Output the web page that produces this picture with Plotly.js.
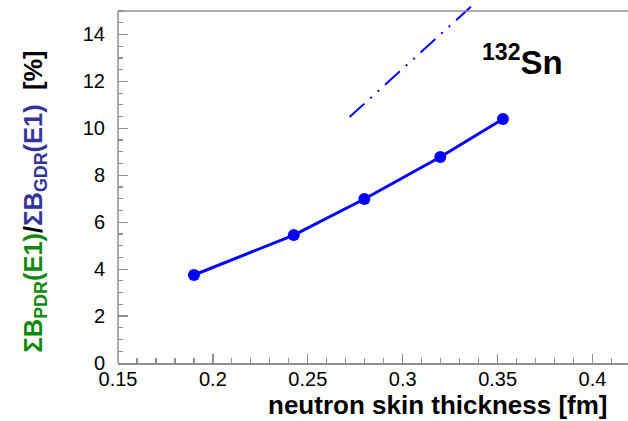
<!DOCTYPE html>
<html>
<head>
<meta charset="utf-8">
<script src="https://cdn.plot.ly/plotly-3.0.1.min.js"></script>
<style>
  html, body { margin: 0; padding: 0; background: #fff; }
  #chart { width: 628px; height: 421px; }
</style>
</head>
<body>
<div id="chart"></div>
<script>
// Calculated PDR/GDR strength ratio versus neutron skin thickness for 132Sn
const skinThickness = [0.190, 0.2426, 0.2798, 0.3198, 0.3528];
const strengthRatio = [3.75, 5.45, 6.99, 8.78, 10.40];

// Dash-dot reference line
const refSkin = [0.272, 0.339];
const refRatio = [10.48, 15.41];

// Axis tick labels
const xTickVals = [0.15, 0.2, 0.25, 0.3, 0.35, 0.4];
const xTickText = ['0.15', '0.2', '0.25', '0.3', '0.35', '0.4'];
const yTickVals = [0, 2, 4, 6, 8, 10, 12, 14];
const yTickText = ['0', '2', '4', '6', '8', '10', '12', '14'];

const axisGrey = '#8f8f8f';
const lineBlue = '#0000ff';
const fontFamily = 'Liberation Sans, Arial, sans-serif';

const traces = [
  {
    x: skinThickness,
    y: strengthRatio,
    type: 'scatter',
    mode: 'lines+markers',
    line: { color: lineBlue, width: 3 },
    marker: { color: lineBlue, size: 12 },
    hoverinfo: 'skip'
  },
  {
    x: refSkin,
    y: refRatio,
    type: 'scatter',
    mode: 'lines',
    line: { color: lineBlue, width: 2, dash: '20px,8px,2px,8px,2px,8px' },
    hoverinfo: 'skip'
  }
];

const layout = {
  width: 628,
  height: 421,
  margin: { l: 118, r: 0, t: 0, b: 58 },
  paper_bgcolor: '#ffffff',
  plot_bgcolor: '#ffffff',
  showlegend: false,
  font: { family: fontFamily, color: '#000' },
  xaxis: {
    range: [0.15, 0.4187],
    showgrid: false,
    zeroline: false,
    showline: true,
    linecolor: axisGrey,
    linewidth: 1.5,
    ticks: 'inside',
    ticklen: 9,
    tickwidth: 1.2,
    tickcolor: axisGrey,
    tickmode: 'array',
    tickvals: xTickVals,
    ticktext: xTickText,
    ticklabelstandoff: -3,
    tickfont: { size: 20, family: fontFamily, color: '#000' },
    minor: { dtick: 0.01, tick0: 0.15, ticks: 'inside', ticklen: 5, tickwidth: 1.2, tickcolor: axisGrey },
    fixedrange: true
  },
  yaxis: {
    range: [0, 15.47],
    showgrid: false,
    zeroline: false,
    showline: false,
    ticks: 'inside',
    ticklen: 10,
    tickwidth: 1.2,
    tickcolor: axisGrey,
    tickmode: 'array',
    tickvals: yTickVals,
    ticktext: yTickText,
    ticklabelstandoff: 12,
    tickfont: { size: 20, family: fontFamily, color: '#000' },
    minor: { dtick: 0.5, tick0: 0, ticks: 'inside', ticklen: 5, tickwidth: 1.2, tickcolor: axisGrey },
    fixedrange: true
  },
  shapes: [
    // left frame edge and top frame edge, stopping at y = 15
    { type: 'line', xref: 'paper', yref: 'y', x0: 0, x1: 0, y0: 0, y1: 15, line: { color: axisGrey, width: 1.5 } },
    { type: 'line', xref: 'paper', yref: 'y', x0: 0, x1: 1, y0: 15, y1: 15, line: { color: axisGrey, width: 1.5 } }
  ],
  annotations: [
    {
      xref: 'paper', yref: 'paper',
      x: -0.1647, y: 0.4449,
      xanchor: 'center', yanchor: 'middle',
      textangle: -90,
      showarrow: false,
      font: { size: 25.5, family: fontFamily, color: '#000' },
      text: '<b><span style="color:#0f8a0f">ΣB<sub>PDR</sub>(E1)</span>/<span style="color:#333399">ΣB<sub>GDR</sub>(E1)</span>  [%]</b>'
    },
    {
      xref: 'paper', yref: 'paper',
      x: 0.6284, y: -0.1157,
      xanchor: 'center', yanchor: 'middle',
      showarrow: false,
      font: { size: 26, family: fontFamily, color: '#000' },
      text: '<b>neutron skin thickness [fm]</b>'
    },
    {
      xref: 'x', yref: 'y',
      x: 0.3407, y: 12.9,
      xanchor: 'left', yanchor: 'middle',
      showarrow: false,
      font: { size: 33, family: fontFamily, color: '#000' },
      text: '<b><sup>132</sup>Sn</b>'
    }
  ]
};

Plotly.newPlot('chart', traces, layout, { displayModeBar: false, staticPlot: true });
</script>
</body>
</html>
